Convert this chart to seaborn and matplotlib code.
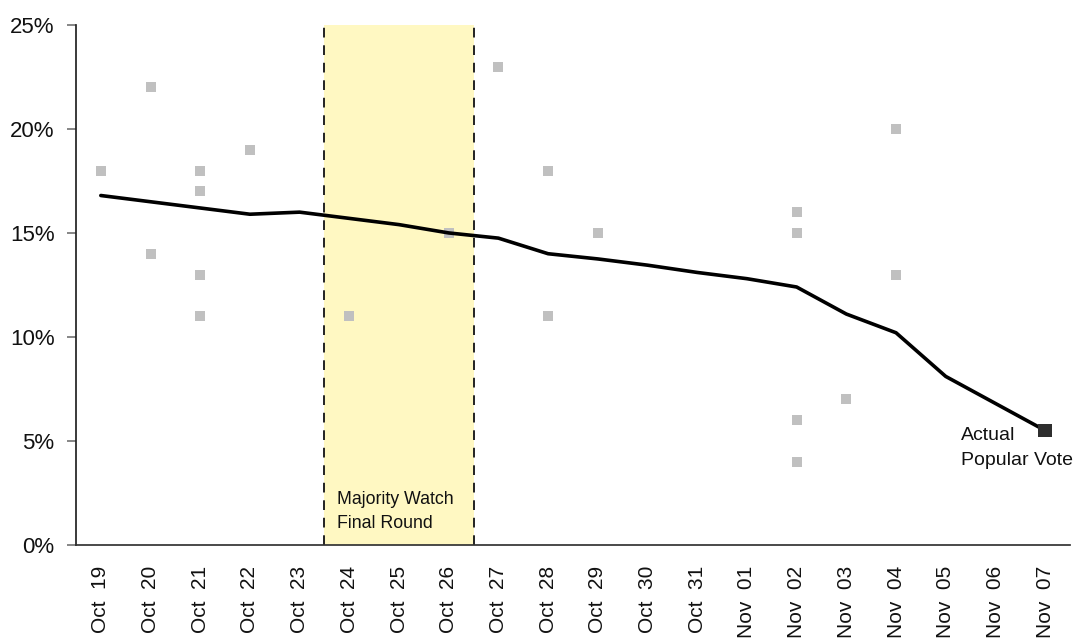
import matplotlib
matplotlib.use('Agg')
import matplotlib.pyplot as plt
import seaborn as sns
from pandas import DataFrame

sns.set_theme(style="white")
plt.rcParams['font.family'] = ['Liberation Sans', 'DejaVu Sans']
plt.rcParams['text.color'] = '#111111'
plt.rcParams['xtick.color'] = '#111111'
plt.rcParams['ytick.color'] = '#111111'

days = ['Oct  19', 'Oct  20', 'Oct  21', 'Oct  22', 'Oct  23', 'Oct  24', 'Oct  25',
        'Oct  26', 'Oct  27', 'Oct  28', 'Oct  29', 'Oct  30', 'Oct  31', 'Nov  01',
        'Nov  02', 'Nov  03', 'Nov  04', 'Nov  05', 'Nov  06', 'Nov  07']

# trend line, one value per day (%)
trend = [16.8, 16.5, 16.2, 15.9, 16.0, 15.7, 15.4, 15.0, 14.75, 14.0,
         13.75, 13.45, 13.1, 12.8, 12.4, 11.1, 10.2, 8.1, 6.8, 5.5]

# individual polls: day index and value (%)
poll_day = [0, 1, 1, 2, 2, 2, 2, 3, 5, 7, 8, 9, 9, 10, 14, 14, 14, 14, 15, 16, 16]
poll_val = [18, 22, 14, 18, 17, 13, 11, 19, 11, 15, 23, 18, 11, 15, 16, 15, 6, 4, 7, 20, 13]

actual_day = [19]
actual_val = [5.5]

trend_df = DataFrame({'day': range(len(days)), 'pct': trend})
poll_df = DataFrame({'day': poll_day, 'pct': poll_val})
actual_df = DataFrame({'day': actual_day, 'pct': actual_val})

fig = plt.figure(figsize=(10.76, 6.41), dpi=100)
ax = fig.add_axes([0.0706, 0.150, 0.9238, 0.811])

# final round shading
ax.axvspan(4.5, 7.5, color='#fff8c2', zorder=0, lw=0)
ax.axvline(4.5, color='#222222', ls=(0, (5, 4)), lw=1.4, zorder=1)
ax.axvline(7.5, color='#222222', ls=(0, (5, 4)), lw=1.4, zorder=1)

sns.scatterplot(x='day', y='pct', data=poll_df, ax=ax, marker='s', s=52,
                color='#c0c0c0', edgecolor='none', zorder=2)
sns.lineplot(x='day', y='pct', data=trend_df, ax=ax, color='black', lw=2.6, zorder=3)
sns.scatterplot(x='day', y='pct', data=actual_df, ax=ax, marker='s', s=100,
                color='#2e2e2e', edgecolor='none', zorder=4)

ax.text(4.75, 1.6, 'Majority Watch\nFinal Round', fontsize=12.8,
        ha='left', va='center', linespacing=1.55)
ax.text(17.31, 4.66, 'Actual\nPopular Vote', fontsize=14,
        ha='left', va='center', linespacing=1.65)

ax.set_xlim(-0.5, 19.5)
ax.set_ylim(0, 25)
ax.set_xticks(range(len(days)))
ax.set_xticklabels(days, rotation=90, fontsize=15)
ax.set_yticks([0, 5, 10, 15, 20, 25])
ax.set_yticklabels(['0%', '5%', '10%', '15%', '20%', '25%'], fontsize=16)
ax.set_xlabel('')
ax.set_ylabel('')

sns.despine(ax=ax, top=True, right=True)
ax.spines['left'].set_color('#222222')
ax.spines['bottom'].set_color('#333333')
ax.tick_params(axis='y', left=True, length=6.5, color='#777777', pad=9)
ax.tick_params(axis='x', bottom=False, pad=9)

fig.savefig('out.png', dpi=100)
